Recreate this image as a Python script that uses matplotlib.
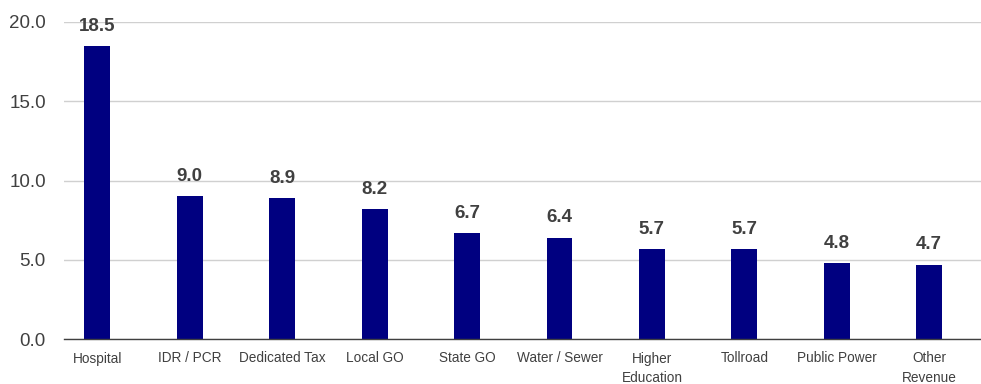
import matplotlib
matplotlib.use("Agg")
import matplotlib.pyplot as plt

categories = ["Hospital", "IDR / PCR", "Dedicated Tax", "Local GO", "State GO",
              "Water / Sewer", "Higher\nEducation", "Tollroad", "Public Power", "Other\nRevenue"]
values = [18.5, 9.0, 8.9, 8.2, 6.7, 6.4, 5.7, 5.7, 4.8, 4.7]
yticks = [0, 5, 10, 15, 20]

plt.rcParams['font.family'] = ['Liberation Sans', 'DejaVu Sans']

fig = plt.figure(figsize=(9.81, 3.84), dpi=100)
ax = fig.add_axes([64/981, 1-339/384, 1-64/981, (339-22)/384])

x = list(range(len(categories)))
bars = ax.bar(x, values, width=0.28, color="#000080", zorder=3)

for xi, v in zip(x, values):
    ax.annotate(f"{v:.1f}", (xi, v), xytext=(0, 8), textcoords="offset points",
                ha="center", va="bottom", fontsize=13.5, fontweight="bold",
                color="#404040", annotation_clip=False)

ax.set_xlim(-0.36, 9.56)
ax.set_ylim(0, 20)
ax.set_yticks(yticks)
ax.set_yticklabels([f"{t:.1f}" for t in yticks], fontsize=13.5, color="#404040")
ax.set_xticks(x)
ax.set_xticklabels(categories, fontsize=9.8, color="#404040", linespacing=1.5, va="top")
ax.tick_params(axis="both", length=0)
ax.tick_params(axis="y", pad=13)
ax.tick_params(axis="x", pad=9)

ax.grid(axis="y", color="#d0d0d0", linewidth=1, zorder=0)
for s in ["top", "right", "left"]:
    ax.spines[s].set_visible(False)
ax.spines["bottom"].set_color("#404040")
ax.spines["bottom"].set_linewidth(1)
ax.spines["bottom"].set_zorder(4)

fig.savefig("out.png", dpi=100)
